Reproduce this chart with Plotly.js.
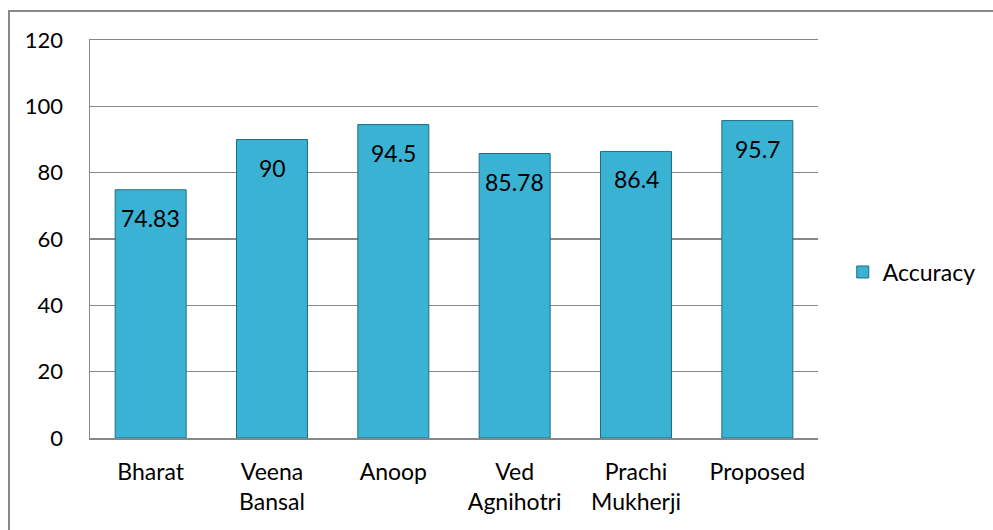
<!DOCTYPE html>
<html>
<head>
<meta charset="utf-8">
<script src="https://cdn.plot.ly/plotly-3.0.1.min.js"></script>
<style>
html,body{margin:0;padding:0;background:#fff;width:993px;height:530px;overflow:hidden;}
#frame{position:absolute;left:8px;top:10px;width:1000px;height:540px;border:2px solid #878787;box-sizing:border-box;}
#chart{position:absolute;left:0;top:0;width:993px;height:530px;}
</style>
</head>
<body>
<div id="frame"></div>
<div id="chart"></div>
<script>
var categories = ["Bharat", "Veena<br>Bansal", "Anoop", "Ved<br>Agnihotri", "Prachi<br>Mukherji", "Proposed"];
var accuracy = [74.83, 90, 94.5, 85.78, 86.4, 95.7];
var valueLabels = ["74.83", "90", "94.5", "85.78", "86.4", "95.7"];
var yTicks = [0, 20, 40, 60, 80, 100, 120];

var fontFam = "Lato, 'Open Sans', sans-serif";

var trace = {
  type: "bar",
  name: "Accuracy",
  x: categories,
  y: accuracy,
  marker: {color: "#3AB2D3", line: {color: "#1E6E86", width: 1}},
  hoverinfo: "none"
};

var annotations = categories.map(function(c, i){
  return {x: c, y: accuracy[i], text: valueLabels[i], showarrow: false,
    yanchor: "top", yshift: -12, font: {family: fontFam, size: 23, color: "#000"}};
});

var layout = {
  width: 993, height: 530,
  margin: {l: 90, r: 175, t: 40, b: 92, autoexpand: false},
  paper_bgcolor: "rgba(0,0,0,0)",
  plot_bgcolor: "rgba(0,0,0,0)",
  bargap: 0.415,
  showlegend: true,
  legend: {x: 1.034, y: 0.417, yanchor: "middle", xanchor: "left",
    font: {family: fontFam, size: 23, color: "#000"}, itemwidth: 30},
  xaxis: {showgrid: false, zeroline: false, showline: true, mirror: true,
    linecolor: "#878787", linewidth: 1.5, ticks: "",
    tickfont: {family: fontFam, size: 23, color: "#000"}, ticklabelstandoff: 13},
  yaxis: {range: [0, 120], tickvals: yTicks, ticktext: yTicks.map(String),
    showgrid: true, gridcolor: "#878787", gridwidth: 1.5, zeroline: false,
    showline: true, linecolor: "#878787", linewidth: 1.5, ticks: "",
    ticklabelstandoff: 21,
    tickfont: {family: fontFam, size: 22, color: "#000"}},
  annotations: annotations
};

Plotly.newPlot("chart", [trace], layout, {displayModeBar: false, staticPlot: true});
</script>
</body>
</html>
